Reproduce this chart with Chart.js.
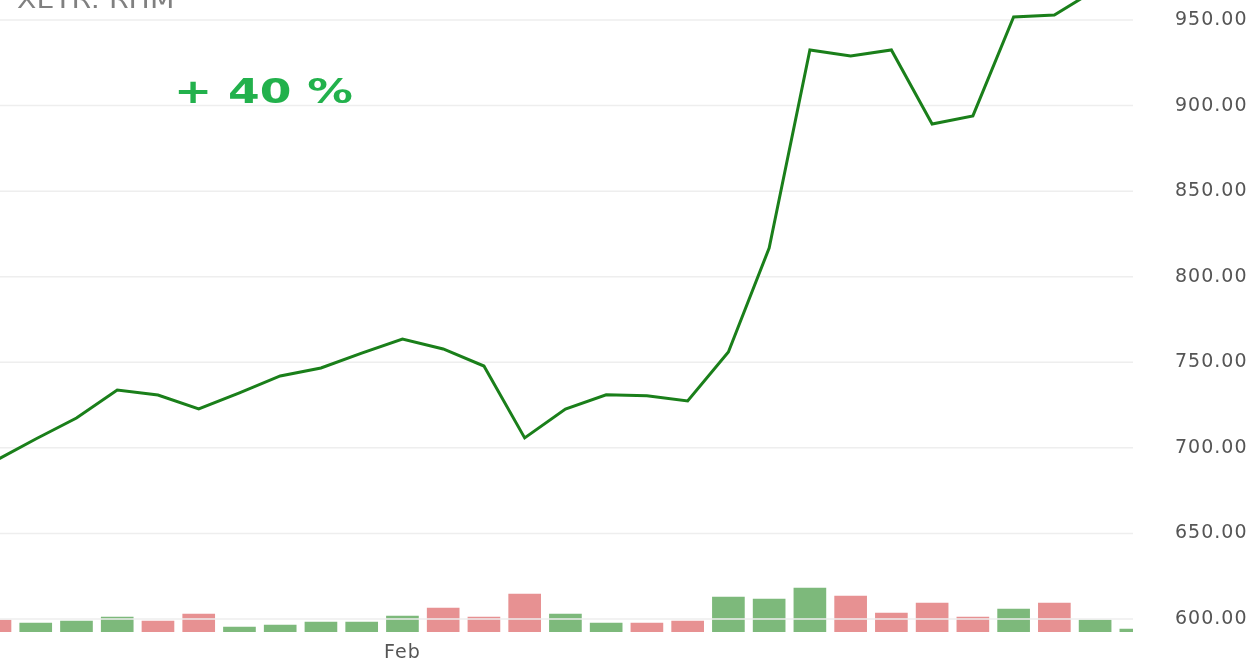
<!DOCTYPE html>
<html>
<head>
<meta charset="utf-8">
<script src="https://cdn.jsdelivr.net/npm/chart.js@4.4.1/dist/chart.umd.min.js"></script>
<style>
  body { margin: 0; background: #fff; }
  #wrap { position: relative; width: 1250px; height: 658px; overflow: hidden; }
  #sym {
    position: absolute; left: 17px; top: -14px; line-height: 24px;
    font: 24px "DejaVu Sans", sans-serif; color: #808080;
    transform: scaleX(1.18); transform-origin: left top; white-space: nowrap;
  }
  #perf {
    position: absolute; left: 174px; top: 71px; line-height: 34px;
    font: bold 34px "DejaVu Sans", sans-serif; color: #22b14c;
    transform: scaleX(1.34); transform-origin: left top; white-space: nowrap;
  }
</style>
</head>
<body>
<div id="wrap">
  <canvas id="chart" width="1250" height="658"></canvas>
  <div id="sym">XETR: RHM</div>
  <div id="perf">+ 40 %</div>
</div>
<script>
'use strict'

// trading days, XETR: RHM
const dates = [
  '2025-01-20', '2025-01-21', '2025-01-22', '2025-01-23', '2025-01-24',
  '2025-01-27', '2025-01-28', '2025-01-29', '2025-01-30', '2025-01-31',
  '2025-02-03', '2025-02-04', '2025-02-05', '2025-02-06', '2025-02-07',
  '2025-02-10', '2025-02-11', '2025-02-12', '2025-02-13', '2025-02-14',
  '2025-02-17', '2025-02-18', '2025-02-19', '2025-02-20', '2025-02-21',
  '2025-02-24', '2025-02-25', '2025-02-26', '2025-02-27'
];
const closes = [
  692.3, 705.2, 717.4, 733.8, 730.9,
  722.7, 732.1, 742.0, 746.7, 755.4,
  763.6, 757.8, 747.8, 705.8, 722.7,
  731.0, 730.5, 727.4, 756.0, 816.8,
  932.5, 929.0, 932.5, 889.2, 894.0,
  951.8, 952.9, 967.5, 972.0
];
// volume in thousand shares
const volumes = [
  144, 108, 132, 180, 132,
  216, 60, 84, 120, 120,
  192, 288, 180, 456, 216,
  108, 108, 132, 420, 396,
  528, 432, 228, 348, 180,
  276, 348, 144, 36
];
// close above open for the day
const volumeUp = [
  false, true, true, true, false,
  false, true, true, true, true,
  true, false, false, false, true,
  true, false, false, true, true,
  true, false, false, false, false,
  true, false, true, true
];
const priceTicks = [600, 650, 700, 750, 800, 850, 900, 950];
const monthTicks = [{ date: '2025-02-03', label: 'Feb' }];

const UP = '#7db97b';
const DOWN = '#e79192';
const GRID = '#eeeeee';

// grid goes over the volume bars but under the price line
const gridOverBars = {
  id: 'gridOverBars',
  beforeDraw(chart) {
    chart.ctx.letterSpacing = '1px';
  },
  afterDatasetDraw(chart, args) {
    if (args.index !== 1) return;
    const { ctx, chartArea } = chart;
    const y = chart.scales.y;
    ctx.save();
    ctx.strokeStyle = GRID;
    ctx.lineWidth = 1.5;
    y.ticks.forEach(t => {
      const py = y.getPixelForValue(t.value);
      ctx.beginPath();
      ctx.moveTo(chartArea.left, py);
      ctx.lineTo(chartArea.right, py);
      ctx.stroke();
    });
    ctx.restore();
  }
};

const ctx = document.getElementById('chart');

new Chart(ctx, {
  data: {
    datasets: [
      {
        type: 'line',
        data: closes.map((c, i) => ({ x: i, y: c })),
        borderColor: '#1a7f1a',
        borderWidth: 3,
        pointRadius: 0,
        tension: 0,
        fill: false,
        xAxisID: 'x',
        yAxisID: 'y'
      },
      {
        type: 'bar',
        data: volumes.map((v, i) => ({ x: i, y: v })),
        backgroundColor: volumeUp.map(u => u ? UP : DOWN),
        barThickness: 32,
        borderWidth: 0,
        xAxisID: 'x',
        yAxisID: 'yVol'
      }
    ]
  },
  options: {
    responsive: false,
    animation: false,
    events: [],
    layout: { padding: 0, autoPadding: false },
    plugins: {
      legend: { display: false },
      tooltip: { enabled: false }
    },
    scales: {
      x: {
        type: 'linear',
        axis: 'x',
        position: 'bottom',
        offset: false,
        min: 0.123,
        max: 27.93,
        grid: { display: false },
        border: { display: false },
        afterFit: s => {
          s.height = 26;
          s.paddingLeft = 0;
          s.paddingRight = 0;
        },
        afterBuildTicks: s => {
          s.ticks = monthTicks.map(m => ({ value: dates.indexOf(m.date) }));
        },
        ticks: {
          padding: 2,
          color: '#555',
          font: { family: 'DejaVu Sans', size: 19 },
          callback: v => {
            const m = monthTicks.find(t => dates.indexOf(t.date) === v);
            return m ? m.label : '';
          }
        }
      },
      y: {
        type: 'linear',
        axis: 'y',
        position: 'right',
        min: 592.4,
        max: 961.7,
        grid: { display: false },
        border: { display: false },
        afterFit: s => {
          s.width = 117;
          s.paddingTop = 0;
          s.paddingBottom = 0;
        },
        afterBuildTicks: s => {
          s.ticks = priceTicks.map(v => ({ value: v }));
        },
        ticks: {
          padding: 34,
          color: '#555',
          font: { family: 'DejaVu Sans', size: 19 },
          callback: v => v.toFixed(2)
        }
      },
      yVol: {
        type: 'linear',
        axis: 'y',
        position: 'left',
        display: false,
        min: 0,
        max: 7584
      }
    }
  },
  plugins: [gridOverBars]
});
</script>
</body>
</html>
